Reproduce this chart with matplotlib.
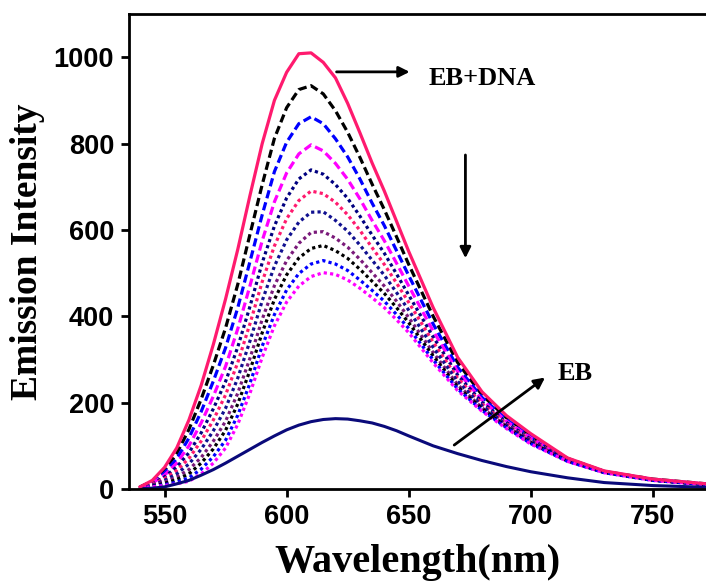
import numpy as np
import matplotlib.pyplot as plt

# wavelength grid (nm)
wl = [540, 545, 550, 555, 560, 565, 570, 575, 580, 585, 590, 595, 600, 605, 610, 615,
      620, 625, 630, 635, 640, 645, 650, 660, 670, 680, 690, 700, 715, 730, 750, 772]

# EB + DNA (top, solid)
eb_dna = [5, 20, 50, 95, 160, 240, 335, 440, 555, 680, 800, 900, 965, 1008, 1010, 988,
          952, 893, 825, 755, 690, 620, 550, 420, 305, 225, 170, 128, 72, 42, 23, 12]

# titration spectra, from top to bottom
c1 = [5, 18, 43, 82, 138, 208, 287, 373, 474, 590, 705, 812, 883, 925, 934, 915,
      876, 826, 768, 706, 647, 584, 520, 400, 293, 218, 165, 124, 71, 41, 23, 12]
c2 = [4, 16, 37, 70, 118, 179, 250, 327, 420, 527, 635, 735, 803, 846, 862, 846,
      811, 769, 718, 662, 610, 552, 494, 382, 282, 212, 161, 121, 70, 41, 22, 11]
c3 = [4, 14, 32, 60, 100, 153, 215, 284, 371, 471, 575, 665, 732, 776, 797, 783,
      754, 717, 672, 622, 575, 523, 470, 366, 272, 206, 157, 118, 69, 40, 22, 11]
c4 = [4, 12, 28, 51, 84, 130, 186, 249, 329, 423, 524, 609, 674, 718, 739, 729,
      705, 673, 632, 588, 546, 498, 449, 352, 264, 201, 154, 115, 68, 40, 21, 11]
c5 = [4, 11, 24, 43, 71, 111, 160, 218, 293, 383, 480, 563, 626, 668, 690, 684,
      664, 635, 599, 559, 520, 477, 432, 340, 257, 197, 151, 113, 67, 40, 21, 11]
c6 = [4, 9, 20, 35, 58, 92, 135, 187, 257, 343, 436, 516, 577, 618, 641, 642,
      622, 597, 565, 530, 495, 455, 414, 328, 249, 193, 148, 111, 66, 39, 21, 11]
c7 = [3, 8, 16, 28, 45, 73, 111, 157, 222, 303, 393, 471, 529, 569, 594, 596,
      581, 560, 532, 501, 470, 435, 397, 316, 242, 188, 146, 109, 65, 39, 21, 10]
c8 = [3, 7, 13, 22, 35, 60, 93, 136, 197, 275, 362, 439, 496, 535, 557, 564,
      552, 534, 509, 481, 453, 420, 385, 308, 237, 186, 144, 107, 65, 38, 20, 10]
c9 = [3, 6, 10, 16, 26, 46, 75, 113, 171, 245, 331, 404, 461, 499, 521, 529,
      521, 506, 484, 460, 435, 404, 372, 299, 232, 182, 142, 105, 64, 38, 20, 10]
c10 = [3, 5, 8, 12, 18, 35, 60, 95, 150, 222, 305, 378, 433, 470, 492, 501,
       497, 484, 465, 443, 420, 392, 362, 292, 228, 180, 140, 104, 64, 38, 20, 10]

# EB alone
eb = [1, 2, 5, 12, 20, 32, 45, 60, 76, 92, 108, 123, 137, 148, 156, 161,
      163, 162, 158, 153, 145, 135, 123, 100, 82, 66, 52, 40, 26, 15, 8, 4]

mids = [c1, c2, c3, c4, c5, c6, c7, c8, c9, c10]
colors = ['black', '#0000ff', '#ff00ff', '#000080', '#ff1a6e',
          '#101090', '#7a1a7a', 'black', '#0000ff', '#ff00ff']
dash = (0, (2.6, 1.3))
dot = (0, (1.0, 1.0))
styles = [dash, dash, dash, dot, dot, dot, dot, dot, dot, dot]

fig = plt.figure(figsize=(7.06, 5.81), dpi=100)
ax = fig.add_axes([0.1832, 0.1583, 0.8168, 0.8176])

for y, c, ls in zip(mids, colors, styles):
    ax.plot(wl, y, color=c, linestyle=ls, lw=2.3)
ax.plot(wl, eb, color='#0a0a7a', lw=2.2)
ax.plot(wl, eb_dna, color='#ff1a6e', lw=2.3)

ax.set_xlim(535.6, 771.7)
ax.set_ylim(0, 1100)
ax.set_xticks([550, 600, 650, 700, 750])
ax.set_yticks([0, 200, 400, 600, 800, 1000])

for s in ['left', 'top', 'bottom']:
    ax.spines[s].set_linewidth(2.0)
ax.spines['right'].set_visible(False)
ax.tick_params(direction='out', length=6, width=2.0, pad=5)
for lab in ax.get_xticklabels() + ax.get_yticklabels():
    lab.set_fontfamily('Liberation Sans')
    lab.set_fontweight('bold')
    lab.set_fontsize(19.5)

serif = {'family': 'Liberation Serif', 'weight': 'bold'}
ax.set_xlabel('Wavelength(nm)', fontdict=serif, fontsize=29, labelpad=10)
ax.set_ylabel('Emission Intensity', fontdict=serif, fontsize=27, labelpad=6)

arw = dict(arrowstyle='-|>', color='black', lw=2.0, mutation_scale=16)
ax.annotate('', xy=(651.5, 966), xytext=(619.3, 966), arrowprops=arw)
ax.text(658, 950, 'EB+DNA', fontdict=serif, fontsize=19, va='center')
ax.annotate('', xy=(673.2, 528), xytext=(673.2, 780), arrowprops=arw)
ax.annotate('', xy=(706.7, 262), xytext=(667.7, 98), arrowprops=arw)
ax.text(710.8, 268, 'EB', fontdict=serif, fontsize=19, va='center')

fig.savefig('out.png', dpi=100)
